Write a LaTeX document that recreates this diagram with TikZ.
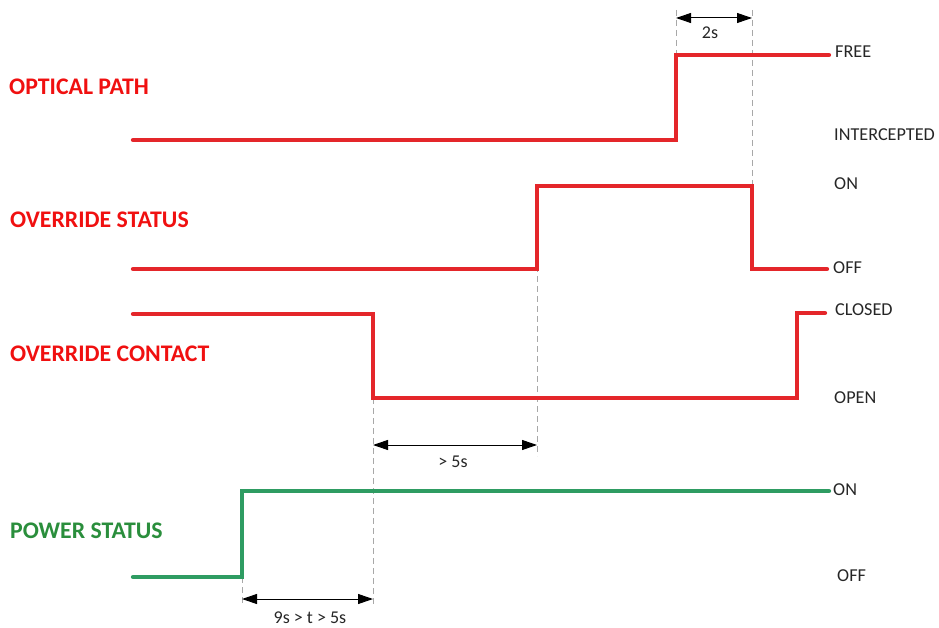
\documentclass[tikz,border=0pt]{standalone}
\usepackage{fontspec}
\setmainfont{Carlito}
\usetikzlibrary{arrows.meta}
\definecolor{sigred}{HTML}{E4262A}
\definecolor{siggreen}{HTML}{2E9C62}
\definecolor{labred}{HTML}{F01010}
\definecolor{labgreen}{HTML}{2A8E3C}
\definecolor{guidegray}{HTML}{A8A8A8}
\definecolor{txt}{HTML}{262626}
\begin{document}
\begin{tikzpicture}[x=1pt,y=-1pt,
  sig/.style={line width=4.3pt, line cap=round, line join=miter},
  guide/.style={draw=guidegray, line width=0.8pt, dash pattern=on 6pt off 4pt},
  dimline/.style={{Triangle[length=15pt,width=10pt]}-{Triangle[length=15pt,width=10pt]}, black, line width=1pt},
  title/.style={font=\bfseries\fontsize{23.8}{26}\selectfont, anchor=west, inner sep=0pt},
  state/.style={font=\fontsize{18.2}{20}\selectfont, text=txt, anchor=west, inner sep=0pt},
  dimtext/.style={font=\fontsize{18}{20}\selectfont, text=txt, inner sep=0pt}]
\useasboundingbox (0,0) rectangle (939,628);

% titles
\node[title, text=labred] (tOpt) at (9,87) {OPTICAL PATH};
\node[title, text=labred] (tOvs) at (10,220) {OVERRIDE STATUS};
\node[title, text=labred] (tOvc) at (10,354) {OVERRIDE CONTACT};
\node[title, text=labgreen] (tPow) at (10,531) {POWER STATUS};

% state labels
\node[state] (sFree) at (835,52) {FREE};
\node[state] (sInt) at (834,135) {INTERCEPTED};
\node[state] (sOn1) at (834,184) {ON};
\node[state] (sOff1) at (833,268) {OFF};
\node[state] (sClo) at (835,310) {CLOSED};
\node[state] (sOpen) at (834,398) {OPEN};
\node[state] (sOn2) at (833,490) {ON};
\node[state] (sOff2) at (837,576) {OFF};

% key time coordinates
\coordinate (a1) at (676,140); \coordinate (a2) at (676,55);
\coordinate (b1) at (537,269); \coordinate (b2) at (537,186);
\coordinate (b3) at (752,186); \coordinate (b4) at (752,269);
\coordinate (c1) at (373,314); \coordinate (c2) at (373,398);
\coordinate (c3) at (797,398); \coordinate (c4) at (797,313);
\coordinate (d1) at (242,577); \coordinate (d2) at (242,491);

% guides
\draw[guide] (676,10) -- (a2);
\draw[guide] (752,10) -- (b3);
\draw[guide] (b2) -- (537,456);
\draw[guide] (c2) -- (373,606);
\draw[guide] (d1) -- (242,606);

% signals
\draw[sig, sigred] (133,140) -- (a1) -- (a2) -- (829,55);
\draw[sig, sigred] (133,269) -- (b1) -- (b2) -- (b3) -- (b4) -- (827,269);
\draw[sig, sigred] (133,314) -- (c1) -- (c2) -- (c3) -- (c4) -- (825,313);
\draw[sig, siggreen] (133,577) -- (d1) -- (d2) -- (829,491);

% dimension arrows
\coordinate (e1) at (676,18); \coordinate (e2) at (752,18);
\draw[dimline] (e1) -- (e2);
\node[dimtext] (l2s) at (710,33) {2s};
\coordinate (f1) at (373,445); \coordinate (f2) at (537,445);
\draw[dimline] (f1) -- (f2);
\node[dimtext] (l5s) at (453,462) {> 5s};
\coordinate (g1) at (242,599); \coordinate (g2) at (373,599);
\draw[dimline] (g1) -- (g2);
\node[dimtext] (l9s) at (310,618) {9s > t > 5s};
\end{tikzpicture}
\end{document}
